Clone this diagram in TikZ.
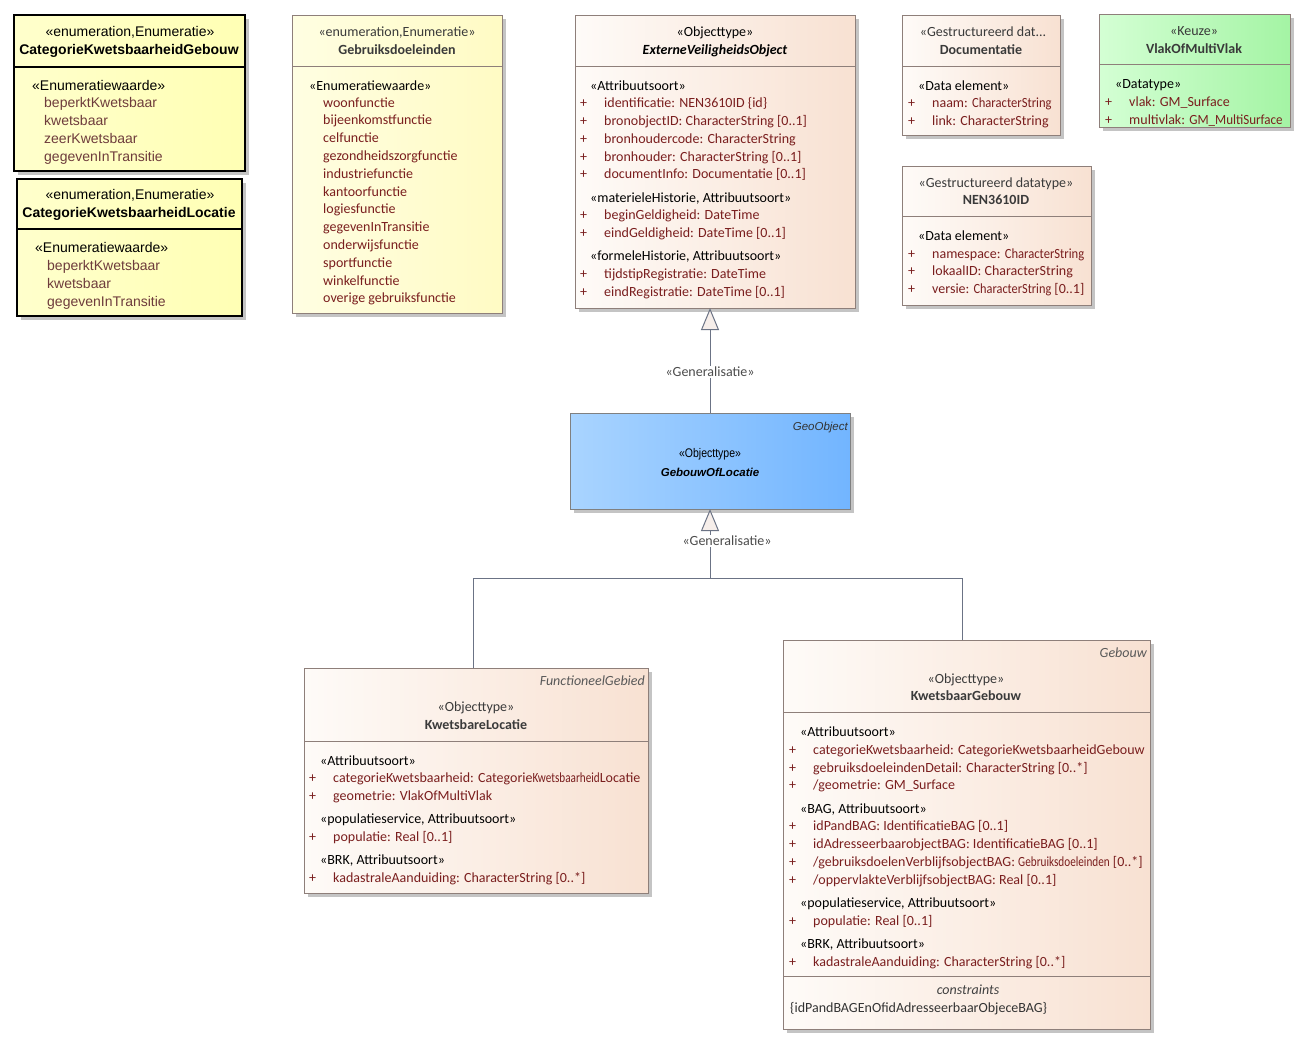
\documentclass[tikz,border=0pt]{standalone}
\usepackage{graphicx}
\usepackage{fontspec}
\setmainfont{Carlito}
\newfontfamily\arialfont{Liberation Sans}
\usetikzlibrary{arrows.meta, shadows}
\definecolor{attrred}{HTML}{7A1E1E}
\definecolor{enumitem}{HTML}{6E3C3C}
\definecolor{hdrgray}{HTML}{3A3A3A}
\definecolor{boxline}{HTML}{8E7F7A}
\definecolor{peachL}{HTML}{FEFBF8}
\definecolor{peachR}{HTML}{F8E1D2}
\definecolor{enumL}{HTML}{FFFFCC}
\definecolor{enumR}{HTML}{FFFFB4}
\definecolor{gdL}{HTML}{FFFEE2}
\definecolor{gdR}{HTML}{FFFBC4}
\definecolor{greenL}{HTML}{D4FFD4}
\definecolor{greenR}{HTML}{A4F4A4}
\definecolor{blueL}{HTML}{A9D4FF}
\definecolor{blueR}{HTML}{72B5FF}
\definecolor{connline}{HTML}{6B7385}
\definecolor{trifill}{HTML}{F6EEEA}
\definecolor{shadowgray}{HTML}{C4C4C4}
\newcommand{\uml}{\fontsize{14}{17}\selectfont}
\newcommand{\arialuml}{\arialfont\fontsize{14}{17}\selectfont}
\newcommand{\arialsmall}{\arialfont\fontsize{11.5}{13}\selectfont}
\newcommand{\squeeze}[2]{\scalebox{#1}[1]{#2}}

\begin{document}
\begin{tikzpicture}[
  x=1pt, y=-1pt,
  >={Triangle[length=22pt, width=18pt, fill=trifill]},
  box/.style={draw=boxline, line width=1pt, inner sep=0pt, outer sep=0pt,
    anchor=north west,
    drop shadow={shadow xshift=4pt, shadow yshift=-4pt, fill=shadowgray, opacity=1}},
  peachbox/.style={box, left color=peachL, right color=peachR},
  enumbox/.style={box, draw=black, line width=1.5pt, left color=enumL, right color=enumR},
  gdbox/.style={box, left color=gdL, right color=gdR},
  greenbox/.style={box, left color=greenL, right color=greenR},
  bluebox/.style={box, draw=gray, left color=blueL, right color=blueR},
  sepline/.style={draw=boxline, line width=1pt},
  enumsep/.style={draw=black, line width=1.2pt},
  stereo/.style={font=\uml, text=black, inner sep=0pt, anchor=base west},
  cname/.style={font=\uml\bfseries, text=hdrgray, inner sep=0pt, anchor=base},
  cstereo/.style={font=\uml, text=hdrgray, inner sep=0pt, anchor=base},
  item/.style={font=\uml, text=attrred, inner sep=0pt, anchor=base west},
  attr/.style={item, execute at begin node={\makebox[24pt][l]{+}}},
  astereo/.style={font=\arialuml, text=black, inner sep=0pt, anchor=base},
  aname/.style={font=\arialuml\bfseries, text=black, inner sep=0pt, anchor=base},
  aitem/.style={font=\arialuml, text=enumitem, inner sep=0pt, anchor=base west},
  parent/.style={font=\uml\itshape, text=black!65, inner sep=0pt, anchor=base east},
  gen/.style={draw=connline, line width=1pt},
  genlabel/.style={font=\uml, text=black!70, fill=white, inner sep=1.5pt},
]

% Background
\fill[white] (0,0) rectangle (1308,1047);
\useasboundingbox (0,0) rectangle (1308,1047);

% ========================================
% Enumerations (left)
% ========================================
\node[enumbox, minimum width=231pt, minimum height=156pt] (cg) at (14,15) {};
\draw[enumsep] (14,67) -- (245,67);
\node[astereo] (cg-s) at (130,36) {«enumeration,Enumeratie»};
\node[aname] (cg-n) at (129,54) {CategorieKwetsbaarheidGebouw};
\node[aitem, text=black] (cg-l) at (32,90) {«Enumeratiewaarde»};
\node[aitem] (cg-1) at (44,107) {beperktKwetsbaar};
\node[aitem] (cg-2) at (44,125) {kwetsbaar};
\node[aitem] (cg-3) at (44,143) {zeerKwetsbaar};
\node[aitem] (cg-4) at (44,161) {gegevenInTransitie};

\node[enumbox, minimum width=225pt, minimum height=137pt] (cl) at (17,179) {};
\draw[enumsep] (17,229) -- (242,229);
\node[astereo] (cl-s) at (130,199) {«enumeration,Enumeratie»};
\node[aname] (cl-n) at (129,217) {CategorieKwetsbaarheidLocatie};
\node[aitem, text=black] (cl-l) at (35,252) {«Enumeratiewaarde»};
\node[aitem] (cl-1) at (47,270) {beperktKwetsbaar};
\node[aitem] (cl-2) at (47,288) {kwetsbaar};
\node[aitem] (cl-3) at (47,306) {gegevenInTransitie};

% Gebruiksdoeleinden
\node[gdbox, minimum width=210pt, minimum height=298pt] (gd) at (292,15) {};
\draw[sepline] (292,66) -- (502,66);
\node[cstereo] (gd-s) at (397,36) {«enumeration,Enumeratie»};
\node[cname] (gd-n) at (397,54) {Gebruiksdoeleinden};
\node[stereo] (gd-l) at (309,90) {«Enumeratiewaarde»};
\node[item] (gd-1) at (323,107) {woonfunctie};
\node[item] (gd-2) at (323,124.8) {bijeenkomstfunctie};
\node[item] (gd-3) at (323,142.6) {celfunctie};
\node[item] (gd-4) at (323,160.4) {gezondheidszorgfunctie};
\node[item] (gd-5) at (323,178.2) {industriefunctie};
\node[item] (gd-6) at (323,196) {kantoorfunctie};
\node[item] (gd-7) at (323,213.8) {logiesfunctie};
\node[item] (gd-8) at (323,231.6) {gegevenInTransitie};
\node[item] (gd-9) at (323,249.4) {onderwijsfunctie};
\node[item] (gd-10) at (323,267.2) {sportfunctie};
\node[item] (gd-11) at (323,285) {winkelfunctie};
\node[item] (gd-12) at (323,302.8) {overige gebruiksfunctie};

% ========================================
% ExterneVeiligheidsObject
% ========================================
\node[peachbox, minimum width=280pt, minimum height=293pt] (evo) at (575,15) {};
\draw[sepline] (575,66) -- (855,66);
\node[cstereo, text=black] (evo-s) at (715,36) {«Objecttype»};
\node[cname, font=\uml\bfseries\itshape, text=black] (evo-n) at (715,54) {ExterneVeiligheidsObject};
\node[stereo] (evo-l1) at (590,90) {«Attribuutsoort»};
\node[attr] (evo-1) at (580,107) {identificatie: NEN3610ID \{id\}};
\node[attr] (evo-2) at (580,125) {bronobjectID: CharacterString [0..1]};
\node[attr] (evo-3) at (580,143) {bronhoudercode: CharacterString};
\node[attr] (evo-4) at (580,161) {bronhouder: CharacterString [0..1]};
\node[attr] (evo-5) at (580,178) {documentInfo: Documentatie [0..1]};
\node[stereo] (evo-l2) at (590,202) {«materieleHistorie, Attribuutsoort»};
\node[attr] (evo-6) at (580,219) {beginGeldigheid: DateTime};
\node[attr] (evo-7) at (580,237) {eindGeldigheid: DateTime [0..1]};
\node[stereo] (evo-l3) at (590,260) {«formeleHistorie, Attribuutsoort»};
\node[attr] (evo-8) at (580,278) {tijdstipRegistratie: DateTime};
\node[attr] (evo-9) at (580,296) {eindRegistratie: DateTime [0..1]};

% ========================================
% Datatypes (right)
% ========================================
\node[peachbox, minimum width=158pt, minimum height=120pt] (doc) at (902,15) {};
\draw[sepline] (902,66) -- (1060,66);
\node[cstereo] (doc-s) at (983,36) {«Gestructureerd dat...};
\node[cname] (doc-n) at (981,54) {Documentatie};
\node[stereo] (doc-l) at (918,90) {«Data element»};
\node[attr] (doc-1) at (908,107) {naam: \squeeze{0.9}{CharacterString}};
\node[attr] (doc-2) at (908,125) {link: CharacterString};

\node[greenbox, minimum width=191pt, minimum height=113pt] (vmv) at (1099,14) {};
\draw[sepline] (1099,64) -- (1290,64);
\node[cstereo] (vmv-s) at (1194,35) {«Keuze»};
\node[cname] (vmv-n) at (1194,53) {VlakOfMultiVlak};
\node[stereo] (vmv-l) at (1115,88) {«Datatype»};
\node[attr] (vmv-1) at (1105,106) {vlak: GM\_Surface};
\node[attr] (vmv-2) at (1105,124) {multivlak: \squeeze{0.93}{GM\_MultiSurface}};

\node[peachbox, minimum width=189pt, minimum height=139pt] (nen) at (902,166) {};
\draw[sepline] (902,216) -- (1091,216);
\node[cstereo] (nen-s) at (996,187) {«Gestructureerd datatype»};
\node[cname] (nen-n) at (996,204) {NEN3610ID};
\node[stereo] (nen-l) at (918,240) {«Data element»};
\node[attr] (nen-1) at (908,258) {namespace: \squeeze{0.9}{CharacterString}};
\node[attr] (nen-2) at (908,275.5) {lokaalID: CharacterString};
\node[attr] (nen-3) at (908,293) {versie: \squeeze{0.88}{CharacterString} [0..1]};

% ========================================
% GebouwOfLocatie
% ========================================
\node[bluebox, minimum width=280pt, minimum height=96pt] (gol) at (570,413) {};
\node[font=\arialsmall\itshape, text=black!80, inner sep=0pt, anchor=base east] (gol-p) at (848,430) {GeoObject};
\node[font=\arialfont\fontsize{12.5}{14}\selectfont, text=black, inner sep=0pt, anchor=base] (gol-s) at (710,457) {\squeeze{0.84}{«Objecttype»}};
\node[font=\arialsmall\bfseries\itshape, text=black, inner sep=0pt, anchor=base] (gol-n) at (710,476) {GebouwOfLocatie};

% ========================================
% KwetsbareLocatie
% ========================================
\node[peachbox, minimum width=344pt, minimum height=225pt] (kl) at (304,668) {};
\draw[sepline] (304,741) -- (648,741);
\node[parent] (kl-p) at (645,685) {FunctioneelGebied};
\node[cstereo] (kl-s) at (476,711) {«Objecttype»};
\node[cname] (kl-n) at (476,729) {KwetsbareLocatie};
\node[stereo] (kl-l1) at (320,765) {«Attribuutsoort»};
\node[attr] (kl-1) at (309,782) {categorieKwetsbaarheid: Categorie\squeeze{0.8}{Kwetsbaarheid}Locatie};
\node[attr] (kl-2) at (309,800) {geometrie: VlakOfMultiVlak};
\node[stereo] (kl-l2) at (320,823) {«populatieservice, Attribuutsoort»};
\node[attr] (kl-3) at (309,841) {populatie: Real [0..1]};
\node[stereo] (kl-l3) at (320,864) {«BRK, Attribuutsoort»};
\node[attr] (kl-4) at (309,882) {kadastraleAanduiding: CharacterString [0..*]};

% ========================================
% KwetsbaarGebouw
% ========================================
\node[peachbox, minimum width=367pt, minimum height=389pt] (kg) at (783,640) {};
\draw[sepline] (783,712) -- (1150,712);
\draw[sepline] (783,976) -- (1150,976);
\node[parent] (kg-p) at (1147,657) {Gebouw};
\node[cstereo] (kg-s) at (966,683) {«Objecttype»};
\node[cname] (kg-n) at (966,700) {KwetsbaarGebouw};
\node[stereo] (kg-l1) at (800,736) {«Attribuutsoort»};
\node[attr] (kg-1) at (789,754) {categorieKwetsbaarheid: CategorieKwetsbaarheidGebouw};
\node[attr] (kg-2) at (789,772) {gebruiksdoeleindenDetail: CharacterString [0..*]};
\node[attr] (kg-3) at (789,789) {/geometrie: GM\_Surface};
\node[stereo] (kg-l2) at (800,813) {«BAG, Attribuutsoort»};
\node[attr] (kg-4) at (789,830) {idPandBAG: IdentificatieBAG [0..1]};
\node[attr] (kg-5) at (789,848) {idAdresseerbaarobjectBAG: IdentificatieBAG [0..1]};
\node[attr] (kg-6) at (789,866) {/gebruiksdoelenVerblijfsobjectBAG: \squeeze{0.8}{Gebruiksdoeleinden} [0..*]};
\node[attr] (kg-7) at (789,884) {/oppervlakteVerblijfsobjectBAG: Real [0..1]};
\node[stereo] (kg-l3) at (800,907) {«populatieservice, Attribuutsoort»};
\node[attr] (kg-8) at (789,925) {populatie: Real [0..1]};
\node[stereo] (kg-l4) at (800,948) {«BRK, Attribuutsoort»};
\node[attr] (kg-9) at (789,966) {kadastraleAanduiding: CharacterString [0..*]};
\node[font=\uml\itshape, text=black!75, inner sep=0pt, anchor=base] (kg-c) at (968,994) {constraints};
\node[item, text=black!80] (kg-c1) at (790,1012) {\{idPandBAGEnOfidAdresseerbaarObjeceBAG\}};

% ========================================
% Generalisations
% ========================================
\draw[gen, ->] (gol.north) -- (gol.north |- evo.south)
  node[genlabel, pos=0.39] (g1) {«Generalisatie»};

\coordinate (junc) at (gol.south |- 0,578);
\draw[gen] ([xshift=-3pt]kl.north) |- (junc);
\draw[gen] ([xshift=-4pt]kg.north) |- (junc);
\draw[gen, ->] (junc) -- (gol.south);
\node[genlabel] (g2) at (727,541) {«Generalisatie»};

\end{tikzpicture}
\end{document}
